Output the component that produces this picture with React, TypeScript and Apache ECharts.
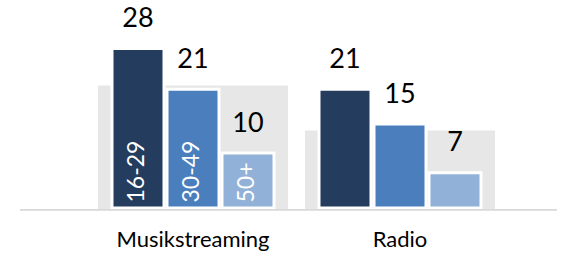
import React, { useEffect, useRef } from "react";
import * as echarts from "echarts";

const categories = ["Musikstreaming", "Radio"];
const seriesNames = ["16-29", "30-49", "50+"];
const values16to29 = [28, 21];
const values30to49 = [21, 15];
const values50plus = [10, 6.6];
const backgroundValues = [21.4, 13.6];

const colors = ["#243D5F", "#4A7EBC", "#91B1D8"];
const FONT = "Lato, 'Open Sans', sans-serif";

export default function App() {
  const ref = useRef<HTMLDivElement>(null);
  useEffect(() => {
    if (!ref.current) return;
    const chart = echarts.init(ref.current, undefined, { renderer: "svg" });
    const seriesValues = [values16to29, values30to49, values50plus];

    const mainSeries = seriesValues.map((vals, i) => ({
      type: "bar",
      name: seriesNames[i],
      xAxisIndex: 0,
      data: vals,
      barWidth: 55,
      barGap: "0%",
      itemStyle: { color: colors[i], borderColor: "#ffffff", borderWidth: 3 },
      label: {
        show: true,
        position: "top",
        distance: 17,
        color: "#000000",
        fontFamily: FONT,
        fontSize: 27,
        formatter: (p: any) => String(Math.round(p.value)),
      },
      z: 3,
    }));

    const overlaySeries = seriesValues.map((vals, i) => ({
      type: "bar",
      name: seriesNames[i] + "-label",
      xAxisIndex: 2,
      barWidth: 55,
      barGap: "0%",
      silent: true,
      itemStyle: { color: "rgba(0,0,0,0)" },
      label: { show: false },
      data: vals.map((v, j) =>
        j === 0
          ? {
              value: v,
              label: {
                show: true,
                position: "insideBottom",
                rotate: 90,
                align: "left",
                verticalAlign: "middle",
                distance: 7,
                offset: [0, -3],
                color: "#ffffff",
                fontFamily: FONT,
                fontSize: 23,
                formatter: seriesNames[i],
              },
            }
          : v
      ),
      z: 4,
    }));

    chart.setOption({
      animation: false,
      grid: { left: 89.5, width: 414, top: 6.5, bottom: 45.5 },
      xAxis: [
        {
          type: "category",
          data: categories,
          axisLine: { show: false },
          axisTick: { show: false },
          axisLabel: { color: "#000000", fontFamily: FONT, fontSize: 22, margin: 18 },
        },
        { type: "category", data: categories, show: false },
        { type: "category", data: categories, show: false },
      ],
      yAxis: { type: "value", min: 0, max: 35, show: false, splitLine: { show: false } },
      series: [
        {
          type: "bar",
          name: "background",
          xAxisIndex: 1,
          data: backgroundValues,
          barWidth: 190,
          silent: true,
          itemStyle: { color: "#E6E7E6" },
          z: 1,
        },
        ...mainSeries,
        ...overlaySeries,
      ],
      graphic: [
        {
          type: "line",
          shape: { x1: 20, y1: 209.8, x2: 557, y2: 209.8 },
          style: { stroke: "#D9D9D9", lineWidth: 1.8 },
          z: 10,
        },
      ],
    });
    return () => chart.dispose();
  }, []);
  return (
    <div
      ref={ref}
      style={{ position: "absolute", left: 0, top: 0, width: 562, height: 255 }}
    />
  );
}
